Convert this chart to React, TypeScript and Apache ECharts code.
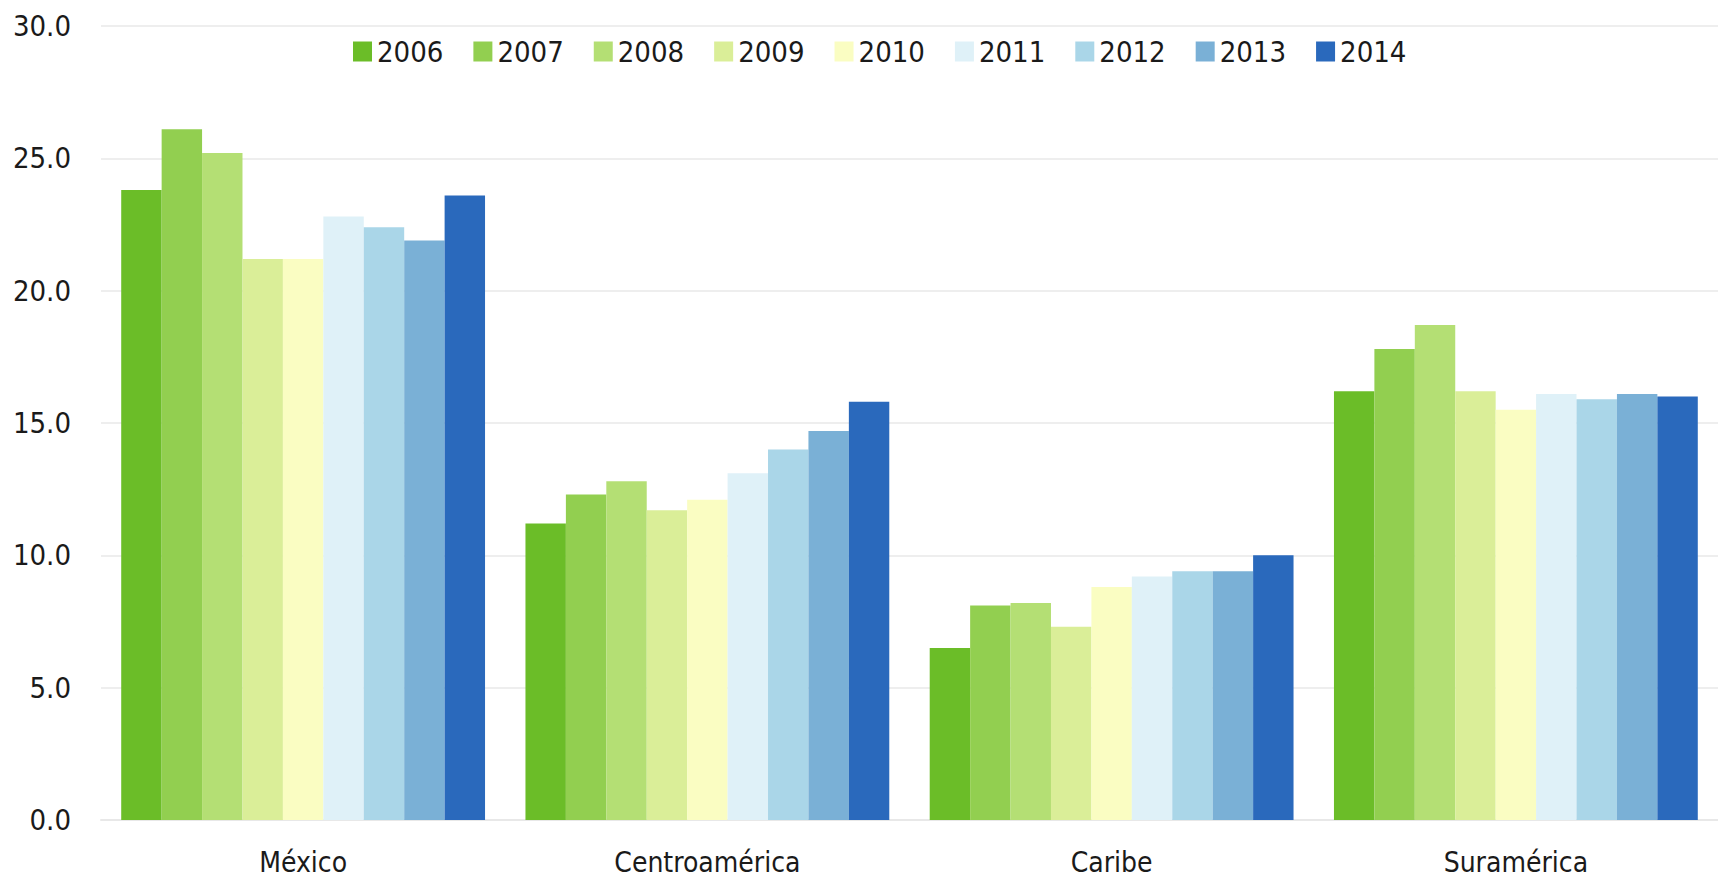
import React, { useEffect, useRef } from "react";
import * as echarts from "echarts";

const categories = ["México", "Centroamérica", "Caribe", "Suramérica"];
const years = ["2006", "2007", "2008", "2009", "2010", "2011", "2012", "2013", "2014"];
const colors = ["#6BBD28", "#92CF50", "#B4DF74", "#DAEE98", "#FAFDC2", "#DFF1F8", "#AAD6E8", "#7AB0D6", "#2A69BC"];

const v2006 = [23.8, 11.2, 6.5, 16.2];
const v2007 = [26.1, 12.3, 8.1, 17.8];
const v2008 = [25.2, 12.8, 8.2, 18.7];
const v2009 = [21.2, 11.7, 7.3, 16.2];
const v2010 = [21.2, 12.1, 8.8, 15.5];
const v2011 = [22.8, 13.1, 9.2, 16.1];
const v2012 = [22.4, 14.0, 9.4, 15.9];
const v2013 = [21.9, 14.7, 9.4, 16.1];
const v2014 = [23.6, 15.8, 10.0, 16.0];
const seriesValues = [v2006, v2007, v2008, v2009, v2010, v2011, v2012, v2013, v2014];

const FONT = "'DejaVu Sans Condensed', 'Liberation Sans Narrow', 'DejaVu Sans', sans-serif";

export default function App() {
  const ref = useRef<HTMLDivElement>(null);
  useEffect(() => {
    if (!ref.current) return;
    const chart = echarts.init(ref.current, null, { renderer: "svg" });
    chart.setOption({
      animation: false,
      backgroundColor: "#ffffff",
      textStyle: { fontFamily: FONT },
      legend: {
        left: 348,
        top: 32,
        itemWidth: 19,
        itemHeight: 20,
        itemGap: 30,
        icon: "rect",
        textStyle: { fontSize: 29, color: "#1a1a1a", fontFamily: FONT },
        data: years,
      },
      grid: { left: 101, right: 0, top: 26, bottom: 65, containLabel: false },
      xAxis: {
        type: "category",
        data: categories,
        axisLine: { show: true, lineStyle: { color: "#E8E8E8", width: 2 } },
        axisTick: { show: false },
        axisLabel: { fontSize: 28, color: "#1a1a1a", margin: 28, fontFamily: FONT },
      },
      yAxis: {
        type: "value",
        min: 0,
        max: 30,
        interval: 5,
        axisLine: { show: false },
        axisTick: { show: false },
        splitLine: { lineStyle: { color: "#EEEEEE", width: 2 } },
        axisLabel: {
          fontSize: 29,
          color: "#1a1a1a",
          margin: 30,
          fontFamily: FONT,
          formatter: (v: number) => v.toFixed(1),
        },
      },
      series: years.map((y, i) => ({
        name: y,
        type: "bar",
        data: seriesValues[i],
        barGap: "0%",
        barCategoryGap: "10%",
        itemStyle: { color: colors[i] },
      })),
    });
    return () => chart.dispose();
  }, []);
  return (
    <div
      ref={ref}
      style={{ position: "fixed", left: 0, top: 0, width: 1718, height: 885 }}
    />
  );
}
